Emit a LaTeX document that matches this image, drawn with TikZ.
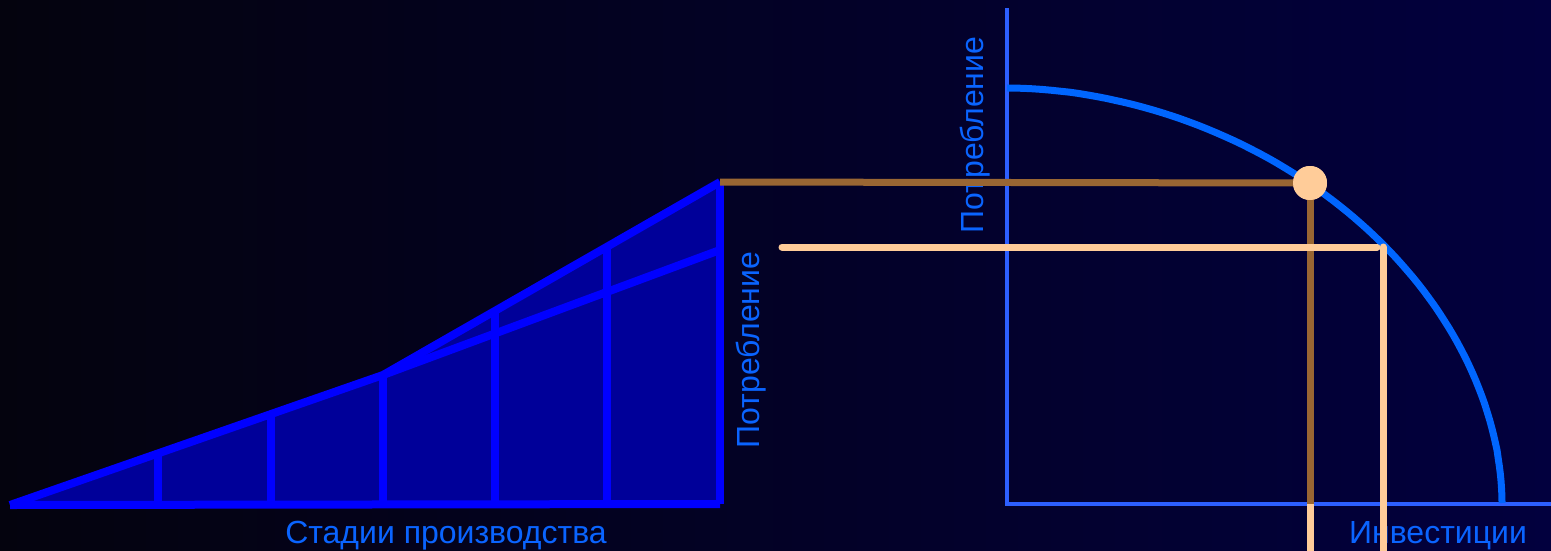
\documentclass[tikz,border=0pt]{standalone}
\usepackage{fontspec}
\setmainfont{Liberation Sans}
\definecolor{bgleft}{RGB}{4,3,14}
\definecolor{bgright}{RGB}{2,0,62}
\definecolor{stagefill}{RGB}{0,0,153}
\definecolor{stageline}{RGB}{0,0,255}
\definecolor{labelblue}{RGB}{10,100,255}
\definecolor{axisblue}{RGB}{45,95,255}
\definecolor{ppfblue}{RGB}{0,102,255}
\definecolor{brownline}{RGB}{153,102,51}
\definecolor{peach}{RGB}{255,204,153}
\tikzset{
  stage/.style={line width=8pt, stageline},
  axisline/.style={line width=4pt, axisblue},
  lbl/.style={labelblue, font=\fontsize{32}{38}\selectfont},
  oldline/.style={line width=7pt, brownline},
  newline/.style={line width=7pt, peach}
}
\begin{document}
\begin{tikzpicture}[x=1pt,y=-1pt]
\shade[left color=bgleft, right color=bgright] (0,0) rectangle (1551,550);
\useasboundingbox (0,0) rectangle (1551,550);
% stages of production
\coordinate (tip) at (10,505);
\coordinate (mid) at (383,375);
\coordinate (top) at (720,182);
\coordinate (low) at (720,250);
\coordinate (base) at (720,504);
\fill[stagefill] (tip) -- (mid) -- (top) -- (base) -- cycle;
\foreach \x/\y in {158/454, 271/414, 383/375, 495/311, 607/247, 720/182}
  { \draw[stage] (\x,\y) -- (\x,504); }
\draw[stage] (tip) -- (base);
\draw[stage, line join=round] (tip) -- (mid) -- (top);
\draw[stage] (mid) -- (low);
\node[lbl, anchor=base] (stages) at (446,543) {Стадии производства};
\node[lbl, rotate=90, anchor=base] (cons1) at (759,350) {Потребление};
% production possibilities
\coordinate (o) at (1007,504);
\coordinate (yend) at (1007,8);
\coordinate (xend) at (1551,504);
\draw[axisline] (yend) -- (o) -- (xend);
\draw[ppfblue, line width=7pt] plot[domain=0.01:89.99, samples=80]
  ({1007+495*cos(\x)^1.0526}, {503-415*sin(\x)^1.0526});
\node[lbl, rotate=90, anchor=base] (cons2) at (983,135) {Потребление};
\node[lbl, anchor=base] (inv) at (1438,543) {Инвестиции};
% old and new point
\coordinate (newstart) at (782,247);
\coordinate (newend) at (1377,247);
\coordinate (newtop) at (1383,247);
\coordinate (newbot) at (1383,560);
\coordinate (optbot) at (1310,560);
\node[circle, fill=peach, minimum size=34pt, inner sep=0pt] (opt) at (1310,183) {};
\draw[oldline] (top) -- (opt.center);
\draw[newline] (opt.center |- o) -- (optbot);
\draw[oldline] (opt.center) -- (opt.center |- o);
\node[circle, fill=peach, minimum size=34pt, inner sep=0pt] at (opt) {};
\draw[newline, line cap=round] (newstart) -- (newend);
\draw[newline, line cap=round] (newtop) -- (newbot);
\end{tikzpicture}
\end{document}
